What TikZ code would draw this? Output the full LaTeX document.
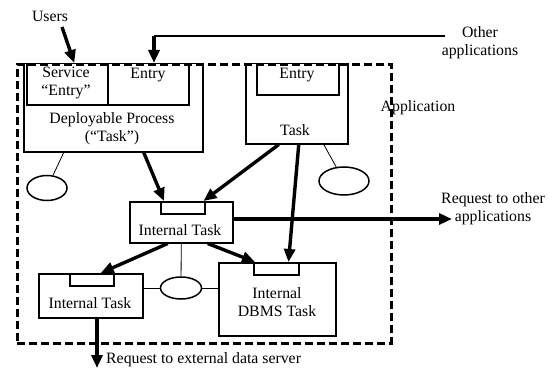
\documentclass[tikz,border=0pt]{standalone}
\usepackage{fontspec}
\setmainfont{Liberation Serif}
\usetikzlibrary{arrows.meta,shapes.geometric}
\tikzset{
  box/.style={draw, line width=1.5pt, anchor=north west, inner sep=0pt},
  dashbox/.style={draw, line width=2.6pt, dash pattern=on 8pt off 4pt, anchor=north west, inner sep=0pt},
  lbl/.style={inner sep=0pt, align=center, font=\fontsize{15.8}{18}\selectfont},
  arr/.style={line width=3.4pt, -{Triangle[length=13pt,width=11pt]}},
  link/.style={line width=0.8pt},
  oval/.style={draw, ellipse, line width=1.5pt, inner sep=0pt},
}
\begin{document}
\begin{tikzpicture}[x=1pt,y=-1pt]
\useasboundingbox (0,0) rectangle (549,369);
% application boundary
\node[dashbox, minimum width=374pt, minimum height=279pt] (app) at (16,63) {};
% deployable process
\node[box, minimum width=179pt, minimum height=88pt] (dp) at (23,63) {};
\node[box, minimum width=81pt, minimum height=41pt] (sv) at (26,63) {};
\node[box, minimum width=81pt, minimum height=41pt] (en) at (107,63) {};
\node[lbl] (svt) at (66,83) {Service\\“Entry”};
\node[lbl] (ent) at (148,75) {Entry};
\node[lbl] (dpt) at (112,129) {Deployable Process\\(“Task”)};
% task
\node[box, minimum width=102pt, minimum height=80pt] (tk) at (245,63) {};
\node[box, minimum width=82pt, minimum height=31pt] (tke) at (256,63) {};
\node[lbl] (tket) at (297,75) {Entry};
\node[lbl] (tkt) at (295,130) {Task};
% ellipses
\node[oval, minimum width=40pt, minimum height=25pt] (e1) at (47,188) {};
\node[oval, minimum width=50pt, minimum height=28pt] (e2) at (344,181) {};
\node[oval, minimum width=41pt, minimum height=22pt] (e3) at (181,288) {};
% internal tasks
\node[box, minimum width=103pt, minimum height=41pt] (it) at (129,201) {};
\node[box, minimum width=44pt, minimum height=12pt] (itp) at (160,201) {};
\node[lbl] (itt) at (180,230) {Internal Task};
\node[box, minimum width=104pt, minimum height=44pt] (il) at (38,273) {};
\node[box, minimum width=44pt, minimum height=12pt] (ilp) at (69,273) {};
\node[lbl] (ilt) at (90,303) {Internal Task};
\node[box, minimum width=117pt, minimum height=73pt] (db) at (218,262) {};
\node[box, minimum width=45pt, minimum height=12pt] (dbp) at (253,262) {};
\node[lbl] (dbt) at (277,302) {Internal\\DBMS Task};
% outside labels
\node[lbl] (users) at (50,16) {Users};
\node[lbl] (oth) at (480,43) {Other\\applications};
\node[lbl] (appt) at (418,108) {Application};
\node[lbl] (rq) at (493,209) {Request to other\\applications};
\node[lbl, anchor=west] (rx) at (106,360) {Request to external data server};
% free ends
\coordinate (u0) at (62,27);
\coordinate (o0) at (445,36);
\coordinate (o1) at (154,36);
\coordinate (r1) at (452,219);
\coordinate (r2) at (97,368);
% thin links
\draw[link] ([xshift=-49.5pt]dp.south) -- (e1);
\draw[link] ([xshift=27pt]tk.south) -- (e2);
\draw[link] (it.south) -- (e3);
\draw[link] (il.east |- e3) -- (e3);
\draw[link] (e3) -- (db.west |- e3);
\draw[line width=1.2pt] (o0) -- (o1);
% arrows
\draw[arr] (u0) -- ([xshift=7pt]sv.north);
\draw[arr] (o1) -- (o1 |- en.north);
\draw[arr] ([xshift=30.5pt]dp.south) -- ([xshift=4pt]itp.north west);
\draw[arr] ([xshift=-18pt]tk.south) -- ([xshift=-2pt]itp.north east);
\draw[arr] ([xshift=2pt]tk.south) -- ([xshift=-11pt]dbp.north east);
\draw[arr] ([xshift=-13.5pt]it.south) -- ([xshift=9pt]ilp.north);
\draw[arr] ([xshift=26.5pt]it.south) -- ([xshift=2pt]dbp.north west);
\draw[arr] (it.east |- r1) -- (r1);
\draw[arr] (il.south -| r2) -- (r2);
\end{tikzpicture}
\end{document}
